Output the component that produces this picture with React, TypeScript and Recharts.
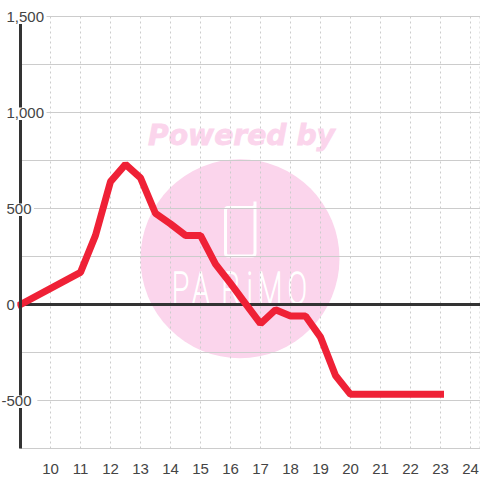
import React from "react";
import { LineChart, Line, XAxis, YAxis, CartesianGrid, ReferenceLine } from "recharts";

const hours = [9, 11, 11.5, 12, 12.5, 13, 13.5, 14, 14.5, 15, 15.5, 16, 16.5, 17, 17.5, 18, 18.5, 19, 19.5, 20, 23];
const values = [0, 167, 360, 640, 730, 660, 474, 420, 360, 360, 210, 110, 5, -100, -27, -60, -60, -170, -370, -468, -468];
const xTicks = [10, 11, 12, 13, 14, 15, 16, 17, 18, 19, 20, 21, 22, 23, 24];
const yTicks = [-750, -500, -250, 0, 250, 500, 750, 1000, 1250, 1500];
const labelledY = [-500, 0, 500, 1000, 1500];

const data = hours.map((hour, i) => ({ hour, value: values[i] }));
const FONT = "'Liberation Sans', Arial, sans-serif";
const TEXT = "#444";
const GRID = "#ccc";
const DARK = "#333";
const RED = "#EF2136";
const PINK = "#FBD5EC";

const YTick = (props: any) => {
  const { y, payload } = props;
  const v = payload.value as number;
  if (!labelledY.includes(v)) return <g />;
  const label = v.toLocaleString("en-US");
  const width = label.replace(/,/g, "").length * 8.34 + (label.includes(",") ? 4.17 : 0);
  const left = v < 0 ? 1.5 : 6.5;
  return (
    <g>
      <rect x={left} y={y - 5} width={width + 2.5} height={12.5} fill="#fff" />
      <text x={left} y={y + 5} fontSize={15} fontFamily={FONT} fill={TEXT} textAnchor="start">
        {label}
      </text>
    </g>
  );
};

const XTick = (props: any) => {
  const { x, y, payload } = props;
  return (
    <text x={x} y={y + 17.5} fontSize={15} fontFamily={FONT} fill={TEXT} textAnchor="middle">
      {payload.value}
    </text>
  );
};

const Watermark = () => (
  <svg width={480} height={480} style={{ position: "absolute", left: 0, top: 0 }}>
    <circle cx={240} cy={258.7} r={99.5} fill={PINK} />
    <text
      x={148}
      y={145}
      fontFamily="'DejaVu Sans', sans-serif"
      fontWeight="bold"
      fontStyle="italic"
      fontSize={29}
      fill={PINK}
      stroke={PINK}
      strokeWidth={0.8}
      textLength={187}
      lengthAdjust="spacingAndGlyphs"
    >
      Powered by
    </text>
    <path
      d="M227 207.500 H252 Q255 207.500 255 205 V201.500 V253 Q255 256 252 256 H228 Q225.500 256 225.500 253 V210 Q225.500 207.500 228 207.500"
      fill="none"
      stroke="#fff"
      strokeWidth={3}
      strokeLinecap="round"
    />
    <g transform="translate(172 304) scale(0.65 1)">
      <text
        x="0 31 76 115 132 178"
        y={0}
        fontFamily="Roboto, sans-serif"
        fontWeight={100}
        fontSize={44}
        fill="#fff"
        stroke="#fff"
        strokeWidth={1.6}
      >
        PARiMO
      </text>
    </g>
  </svg>
);

export default function App() {
  return (
    <div style={{ position: "absolute", left: 0, top: 0, width: 480, height: 480, background: "#fff", overflow: "hidden" }}>
      <Watermark />
      <div style={{ position: "absolute", left: 0, top: 0 }}>
        <LineChart
          width={480}
          height={480}
          data={data}
          margin={{ top: 16.5, right: 0, bottom: 0, left: 0 }}
        >
          <CartesianGrid vertical={false} stroke={GRID} strokeWidth={1} />
          <CartesianGrid horizontal={false} stroke={GRID} strokeWidth={1} strokeDasharray="2 3" />
          <XAxis
            dataKey="hour"
            type="number"
            domain={[9, 24.3167]}
            ticks={xTicks}
            interval={0}
            height={31.5}
            axisLine={false}
            tickLine={false}
            tick={<XTick />}
          />
          <YAxis
            type="number"
            domain={[-750, 1500]}
            ticks={yTicks}
            interval={0}
            width={20.5}
            axisLine={{ stroke: DARK, strokeWidth: 3 }}
            tickLine={false}
            tick={<YTick />}
          />
          <ReferenceLine y={0} stroke={DARK} strokeWidth={3} />
          <Line
            dataKey="value"
            type="linear"
            stroke={RED}
            strokeWidth={7}
            strokeLinecap="square"
            strokeLinejoin="bevel"
            dot={false}
            activeDot={false}
            isAnimationActive={false}
          />
        </LineChart>
      </div>
    </div>
  );
}
